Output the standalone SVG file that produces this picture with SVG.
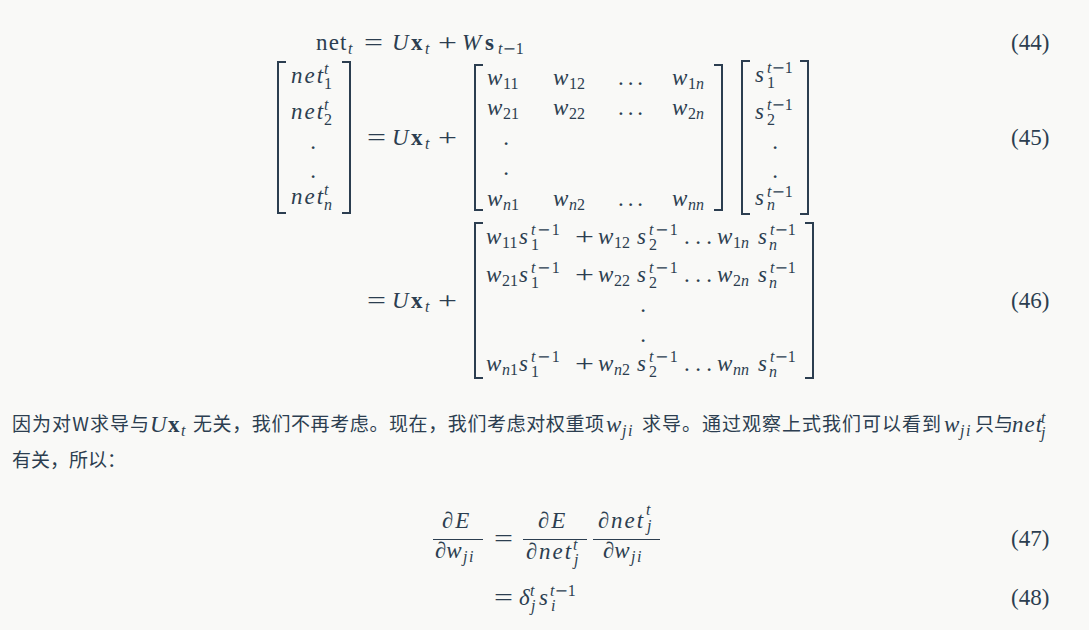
<svg xmlns="http://www.w3.org/2000/svg" width="1089" height="630" viewBox="0 0 1089 630">
<style>
.m{font-family:"Liberation Serif",serif;fill:#2c3e50}
.L{font-size:23px}
.S{font-size:16px}
.i{font-style:italic}
.b{font-weight:bold}
.mn{font-family:"DejaVu Serif",serif;font-style:normal}
.one{font-family:"Liberation Serif",serif;font-style:normal}
.w6{letter-spacing:1.5px}
.nt{letter-spacing:2px}
.br{fill:none;stroke:#2c3e50;stroke-width:2}
.fr{stroke:#2c3e50;stroke-width:1.2}
.cjk{font-family:"Noto Sans CJK SC","Noto Sans",sans-serif;font-size:19px;fill:#2c3e50}
</style>
<rect width="1089" height="630" fill="#f9f9f7"/>

<g id="eq44">
<text class="m L" x="316" y="50" letter-spacing="1.2">net</text>
<text class="m S i" x="348" y="53.5">t</text>
<text class="m L" x="364" y="50" textLength="19" lengthAdjust="spacingAndGlyphs">=</text>
<text class="m L i" x="392" y="50">U</text>
<text class="m L b" x="411" y="50">x</text>
<text class="m S i" x="425" y="53.5">t</text>
<text class="m L" x="438" y="50" textLength="19" lengthAdjust="spacingAndGlyphs">+</text>
<text class="m L i" x="462" y="50">W</text>
<text class="m L b" x="485" y="50">s</text>
<text class="m S i" x="498" y="53.5">t<tspan class="mn">−</tspan><tspan class="one">1</tspan></text>
<text class="m L" x="1011" y="50">(44)</text>
</g>

<g id="eq45">
<path class="br" d="M286,62H278V213H286M342,62H350V213H342"/>
<text class="m L i nt" x="291" y="83">net</text>
<text class="m S i" x="324" y="74">t</text><text class="m S" x="324" y="89">1</text>
<text class="m L i nt" x="291" y="119">net</text>
<text class="m S i" x="324" y="110">t</text><text class="m S" x="324" y="125">2</text>
<text class="m L" x="313" y="148.5" text-anchor="middle">.</text>
<text class="m L" x="313" y="177.5" text-anchor="middle">.</text>
<text class="m L i nt" x="291" y="204">net</text>
<text class="m S i" x="324" y="195">t</text><text class="m S i" x="324" y="210">n</text>

<text class="m L" x="367" y="145" textLength="19" lengthAdjust="spacingAndGlyphs">=</text>
<text class="m L i" x="392" y="145">U</text>
<text class="m L b" x="411" y="145">x</text>
<text class="m S i" x="425" y="148.5">t</text>
<text class="m L" x="438" y="145" textLength="19" lengthAdjust="spacingAndGlyphs">+</text>

<path class="br" d="M483,65H475V210H483M714,65H722V210H714"/>
<text class="m L i" x="487" y="85">w</text><text class="m S" x="503" y="88.5">11</text>
<text class="m L i" x="553" y="85">w</text><text class="m S" x="569" y="88.5">12</text>
<text class="m L" x="618" y="85" textLength="25" lengthAdjust="spacing">...</text>
<text class="m L i" x="672" y="85">w</text><text class="m S" x="688" y="88.5">1<tspan class="i">n</tspan></text>
<text class="m L i" x="487" y="115">w</text><text class="m S" x="503" y="118.5">21</text>
<text class="m L i" x="553" y="115">w</text><text class="m S" x="569" y="118.5">22</text>
<text class="m L" x="618" y="115" textLength="25" lengthAdjust="spacing">...</text>
<text class="m L i" x="672" y="115">w</text><text class="m S" x="688" y="118.5">2<tspan class="i">n</tspan></text>
<text class="m L" x="506" y="145" text-anchor="middle">.</text>
<text class="m L" x="506" y="175" text-anchor="middle">.</text>
<text class="m L i" x="487" y="206">w</text><text class="m S" x="503" y="209.5"><tspan class="i">n</tspan>1</text>
<text class="m L i" x="553" y="206">w</text><text class="m S" x="569" y="209.5"><tspan class="i">n</tspan>2</text>
<text class="m L" x="618" y="206" textLength="25" lengthAdjust="spacing">...</text>
<text class="m L i" x="672" y="206">w</text><text class="m S i" x="688" y="209.5">nn</text>

<path class="br" d="M750,61H742V214H750M800,61H808V214H800"/>
<text class="m L i" x="755" y="82">s</text>
<text class="m S i" x="767" y="73">t<tspan class="mn">−</tspan><tspan class="one">1</tspan></text>
<text class="m S" x="767" y="88">1</text>
<text class="m L i" x="755" y="119">s</text>
<text class="m S i" x="767" y="110">t<tspan class="mn">−</tspan><tspan class="one">1</tspan></text>
<text class="m S" x="767" y="125">2</text>
<text class="m L" x="775" y="149" text-anchor="middle">.</text>
<text class="m L" x="775" y="177.5" text-anchor="middle">.</text>
<text class="m L i" x="755" y="205">s</text>
<text class="m S i" x="767" y="197">t<tspan class="mn">−</tspan><tspan class="one">1</tspan></text>
<text class="m S i" x="767" y="210">n</text>
<text class="m L" x="1011" y="145">(45)</text>
</g>

<g id="eq46">
<text class="m L" x="367" y="308" textLength="19" lengthAdjust="spacingAndGlyphs">=</text>
<text class="m L i" x="392" y="308">U</text>
<text class="m L b" x="411" y="308">x</text>
<text class="m S i" x="425" y="311.5">t</text>
<text class="m L" x="438" y="308" textLength="19" lengthAdjust="spacingAndGlyphs">+</text>
<path class="br" d="M483,223H475V378H483M805,223H813V378H805"/>

<text class="m L i" x="486" y="244">w</text><text class="m S" x="502" y="247.5">11</text>
<text class="m L i" x="519" y="244">s</text>
<text class="m S i w6" x="531" y="235">t<tspan class="mn">−</tspan><tspan class="one">1</tspan></text>
<text class="m S" x="531" y="250">1</text>
<text class="m L" x="575" y="244" textLength="19" lengthAdjust="spacingAndGlyphs">+</text>
<text class="m L i" x="598" y="244">w</text><text class="m S" x="614" y="247.5">12</text>
<text class="m L i" x="637" y="244">s</text>
<text class="m S i w6" x="649" y="235">t<tspan class="mn">−</tspan><tspan class="one">1</tspan></text>
<text class="m S" x="649" y="250">2</text>
<text class="m L" x="684" y="244" textLength="28" lengthAdjust="spacing">...</text>
<text class="m L i" x="717" y="244">w</text><text class="m S" x="733" y="247.5">1<tspan class="i">n</tspan></text>
<text class="m L i" x="758" y="244">s</text>
<text class="m S i" x="770" y="235">t<tspan class="mn">−</tspan><tspan class="one">1</tspan></text>
<text class="m S i" x="769" y="250">n</text>

<text class="m L i" x="486" y="282">w</text><text class="m S" x="502" y="285.5">21</text>
<text class="m L i" x="519" y="282">s</text>
<text class="m S i w6" x="531" y="273">t<tspan class="mn">−</tspan><tspan class="one">1</tspan></text>
<text class="m S" x="531" y="288">1</text>
<text class="m L" x="575" y="282" textLength="19" lengthAdjust="spacingAndGlyphs">+</text>
<text class="m L i" x="598" y="282">w</text><text class="m S" x="614" y="285.5">22</text>
<text class="m L i" x="637" y="282">s</text>
<text class="m S i w6" x="649" y="273">t<tspan class="mn">−</tspan><tspan class="one">1</tspan></text>
<text class="m S" x="649" y="288">2</text>
<text class="m L" x="684" y="282" textLength="28" lengthAdjust="spacing">...</text>
<text class="m L i" x="717" y="282">w</text><text class="m S" x="733" y="285.5">2<tspan class="i">n</tspan></text>
<text class="m L i" x="758" y="282">s</text>
<text class="m S i" x="770" y="273">t<tspan class="mn">−</tspan><tspan class="one">1</tspan></text>
<text class="m S i" x="769" y="288">n</text>

<text class="m L" x="643" y="311.5" text-anchor="middle">.</text>
<text class="m L" x="643" y="341.5" text-anchor="middle">.</text>

<text class="m L i" x="486" y="371">w</text><text class="m S" x="502" y="374.5"><tspan class="i">n</tspan>1</text>
<text class="m L i" x="519" y="371">s</text>
<text class="m S i w6" x="531" y="362">t<tspan class="mn">−</tspan><tspan class="one">1</tspan></text>
<text class="m S" x="531" y="377">1</text>
<text class="m L" x="575" y="371" textLength="19" lengthAdjust="spacingAndGlyphs">+</text>
<text class="m L i" x="598" y="371">w</text><text class="m S" x="614" y="374.5"><tspan class="i">n</tspan>2</text>
<text class="m L i" x="637" y="371">s</text>
<text class="m S i w6" x="649" y="362">t<tspan class="mn">−</tspan><tspan class="one">1</tspan></text>
<text class="m S" x="649" y="377">2</text>
<text class="m L" x="684" y="371" textLength="28" lengthAdjust="spacing">...</text>
<text class="m L i" x="717" y="371">w</text><text class="m S i" x="733" y="374.5">nn</text>
<text class="m L i" x="758" y="371">s</text>
<text class="m S i" x="770" y="362">t<tspan class="mn">−</tspan><tspan class="one">1</tspan></text>
<text class="m S i" x="769" y="377">n</text>
<text class="m L" x="1011" y="308">(46)</text>
</g>

<g id="paragraph">
<text class="cjk" x="12" y="431" textLength="137" lengthAdjust="spacing">因为对W求导与</text>
<text class="m L i" x="150" y="432">U</text>
<text class="m L b" x="168" y="432">x</text>
<text class="m S i" x="181" y="435.5">t</text>
<text class="cjk" x="193" y="431" textLength="411" lengthAdjust="spacing">无关，我们不再考虑。现在，我们考虑对权重项</text>
<text class="m L i" x="606" y="432">w</text>
<text class="m S i" x="622" y="436" letter-spacing="1.5">ji</text>
<text class="cjk" x="642" y="431" textLength="299" lengthAdjust="spacing">求导。通过观察上式我们可以看到</text>
<text class="m L i" x="944" y="432">w</text>
<text class="m S i" x="960" y="436" letter-spacing="1.5">ji</text>
<text class="cjk" x="975" y="431">只与</text>
<text class="m L i" x="1012" y="432" letter-spacing="1">net</text>
<text class="m S i" x="1041" y="423">t</text>
<text class="m S i" x="1041" y="438">j</text>
<text class="cjk" x="12" y="467">有关，所以：</text>
</g>

<g id="eq47">
<text class="m L i" x="442" y="528" letter-spacing="2">∂E</text>
<line class="fr" x1="433" y1="539.5" x2="483" y2="539.5"/>
<text class="m L i" x="435" y="558">∂w</text>
<text class="m S i" x="463" y="562" letter-spacing="1.5">ji</text>
<text class="m L" x="494" y="546" textLength="19" lengthAdjust="spacingAndGlyphs">=</text>
<text class="m L i" x="538" y="528" letter-spacing="2">∂E</text>
<line class="fr" x1="523" y1="539.5" x2="587" y2="539.5"/>
<text class="m L i" x="526" y="559">∂</text>
<text class="m L i nt" x="539" y="559">net</text>
<text class="m S i" x="573" y="550">t</text>
<text class="m S i" x="574" y="565">j</text>
<text class="m L i" x="598" y="528">∂</text>
<text class="m L i nt" x="611" y="528">net</text>
<text class="m S i" x="646" y="515">t</text>
<text class="m S i" x="647" y="531">j</text>
<line class="fr" x1="593" y1="539.5" x2="660" y2="539.5"/>
<text class="m L i" x="603" y="558">∂w</text>
<text class="m S i" x="631" y="562" letter-spacing="1.5">ji</text>
<text class="m L" x="1011" y="546">(47)</text>
</g>

<g id="eq48">
<text class="m L" x="494" y="605" textLength="19" lengthAdjust="spacingAndGlyphs">=</text>
<text class="m L i" x="519" y="605">δ</text>
<text class="m S i" x="530" y="596">t</text>
<text class="m S i" x="531" y="611">j</text>
<text class="m L i" x="539" y="605">s</text>
<text class="m S i" x="550" y="596">t<tspan class="mn">−</tspan><tspan class="one">1</tspan></text>
<text class="m S i" x="551" y="611">i</text>
<text class="m L" x="1011" y="605">(48)</text>
</g>
</svg>
